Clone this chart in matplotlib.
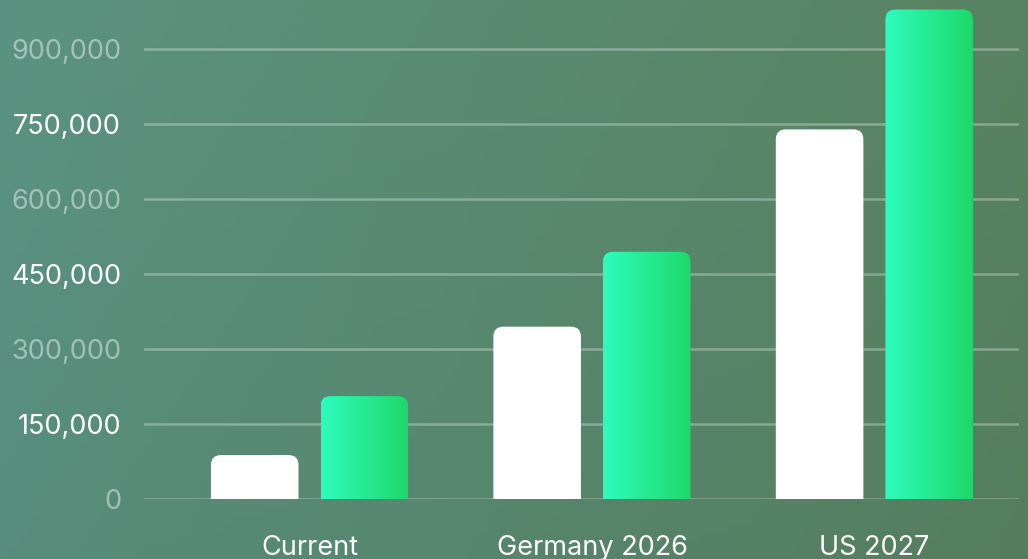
import numpy as np
import matplotlib as mpl
import matplotlib.pyplot as plt
from matplotlib.patches import FancyBboxPatch


###############################################################################
categories = ['Current', 'Germany 2026', 'US 2027']
white_values = [88000, 345000, 740000]
green_values = [206000, 495000, 980000]
y_ticks = [0, 150000, 300000, 450000, 600000, 750000, 900000]
filename = 'out.png'
###############################################################################

W, H, DPI = 1028, 559, 100
bg_left = '#59907f'
bg_right = '#57805f'
green_left = '#2efcbd'
green_right = '#1ed86a'

plt.rcParams['font.family'] = ['Inter', 'DejaVu Sans']

fig = plt.figure(figsize=(W / DPI, H / DPI), dpi=DPI)

# background gradient
bg = fig.add_axes([0, 0, 1, 1], zorder=0)
c1 = np.array(mpl.colors.to_rgb(bg_left))
c2 = np.array(mpl.colors.to_rgb(bg_right))
t = np.linspace(0, 1, 256)
grad = (1 - t)[None, :, None] * c1 + t[None, :, None] * c2
vshade = np.linspace(1.02, 0.98, 64)[:, None, None]
bg.imshow(np.clip(grad * vshade, 0, 1), aspect='auto', extent=(0, 1, 0, 1))
bg.axis('off')

# main axes, pixel-placed
left, right = 144, 1019
bottom_px, top_px = 499, -0.5
ax = fig.add_axes([left / W, (H - bottom_px) / H, (right - left) / W,
                   (bottom_px - top_px) / H], zorder=1)
ax.set_facecolor('none')
xlim = (-0.586, 2.512)
ylim = (0, 1000000)
ax.set_xlim(xlim)
ax.set_ylim(ylim)

px_per_x = (right - left) / (xlim[1] - xlim[0])
px_per_y = (bottom_px - top_px) / (ylim[1] - ylim[0])
aspect = px_per_x / px_per_y
radius_px = 10
rs = radius_px / px_per_x

width = 0.31
offset = 0.194
x = np.arange(len(categories))

green_cmap = mpl.colors.LinearSegmentedColormap.from_list('g', [green_left, green_right])

for i in range(len(categories)):
    # white bar
    xw = x[i] - offset - width / 2
    hw = white_values[i]
    ext = radius_px * 2 / px_per_y
    p = FancyBboxPatch((xw, -ext), width, hw + ext,
                       boxstyle='round,pad=0,rounding_size=%f' % rs,
                       mutation_aspect=aspect, facecolor='white',
                       edgecolor='none', zorder=3)
    ax.add_patch(p)

    # green bar with horizontal gradient
    xg = x[i] + offset - width / 2
    hg = green_values[i]
    pg = FancyBboxPatch((xg, -ext), width, hg + ext,
                        boxstyle='round,pad=0,rounding_size=%f' % rs,
                        mutation_aspect=aspect, facecolor='none',
                        edgecolor='none', zorder=3)
    ax.add_patch(pg)
    im = ax.imshow(np.linspace(0, 1, 128)[None, :], cmap=green_cmap,
                   aspect='auto', extent=(xg, xg + width, 0, hg), zorder=3)
    im.set_clip_path(pg)

ax.set_xlim(xlim)
ax.set_ylim(ylim)

# grid
for v in y_ticks:
    ax.axhline(v, color='white', alpha=0.3, linewidth=1.8, zorder=2)

ax.set_yticks(y_ticks)
ax.set_yticklabels(['{:,}'.format(v) for v in y_ticks], fontsize=19.5)
for j, lab in enumerate(ax.get_yticklabels()):
    lab.set_color('white')
    lab.set_alpha(0.45 if j % 2 == 0 else 1.0)

ax.set_xticks(x)
ax.set_xticklabels(categories, fontsize=19.5, color='white')

ax.tick_params(axis='y', length=0, pad=16.5)
ax.tick_params(axis='x', length=0, pad=26)

for s in ax.spines.values():
    s.set_visible(False)

plt.savefig(filename, dpi=DPI)
plt.close()
